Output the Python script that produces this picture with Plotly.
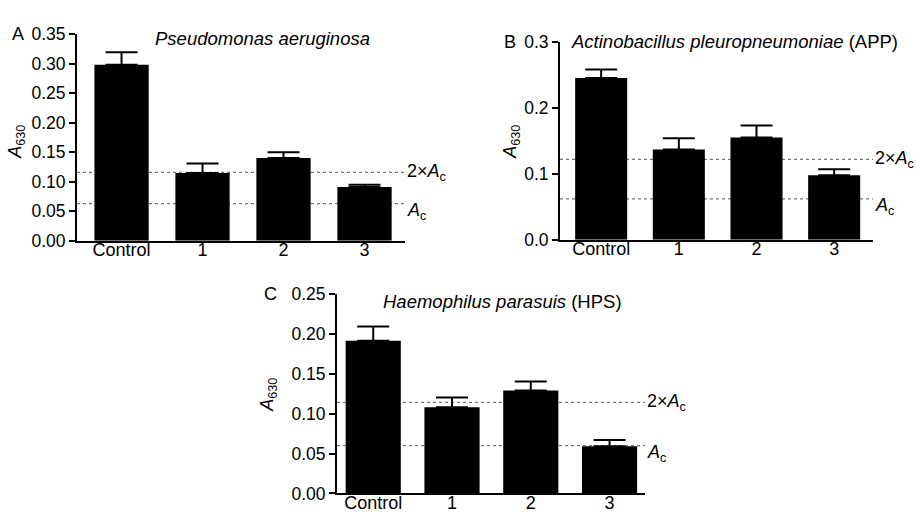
import plotly.graph_objects as go

categories = ["Control", "1", "2", "3"]

# Panel A: Pseudomonas aeruginosa
a_means = [0.298, 0.115, 0.140, 0.091]
a_errs = [0.021, 0.016, 0.010, 0.004]
a_ac = 0.063
a_2ac = 0.116

# Panel B: Actinobacillus pleuropneumoniae (APP)
b_means = [0.245, 0.137, 0.155, 0.098]
b_errs = [0.013, 0.017, 0.018, 0.009]
b_ac = 0.062
b_2ac = 0.122

# Panel C: Haemophilus parasuis (HPS)
c_means = [0.191, 0.108, 0.129, 0.059]
c_errs = [0.018, 0.012, 0.011, 0.008]
c_ac = 0.060
c_2ac = 0.114

FONT = "Liberation Sans, Arial, sans-serif"
W, H = 921, 523

panels = [
    dict(key="", means=a_means, errs=a_errs, ac=a_ac, ac2=a_2ac,
         xdom=[77 / W, 405 / W], ydom=[1 - 240 / H, 1 - 25 / H],
         xr=[-0.55, 3.5], yr=[0, 0.35], dtick=0.05, fmt=".2f", bw=0.67,
         title="<i>Pseudomonas aeruginosa</i>", tx=262, ty=30,
         letter="A", lx=18, ly=25, ylx=17, yly=137),
    dict(key="2", means=b_means, errs=b_errs, ac=b_ac, ac2=b_2ac,
         xdom=[560 / W, 873 / W], ydom=[1 - 239 / H, 1 - 33 / H],
         xr=[-0.53, 3.5], yr=[0, 0.3], dtick=0.1, fmt=".1f", bw=0.67,
         title="<i>Actinobacillus pleuropneumoniae</i> (APP)", tx=734, ty=33,
         letter="B", lx=510, ly=33, ylx=512, yly=137),
    dict(key="3", means=c_means, errs=c_errs, ac=c_ac, ac2=c_2ac,
         xdom=[337 / W, 645 / W], ydom=[1 - 502.7 / H, 1 - 295 / H],
         xr=[-0.46, 3.45], yr=[0, 0.25], dtick=0.05, fmt=".2f", bw=0.7,
         title="<i>Haemophilus parasuis</i> (HPS)", tx=502, ty=303,
         letter="C", lx=270, ly=295, ylx=269, yly=400),
]

fig = go.Figure()
annotations = []
shapes = []

for p in panels:
    xa = "x" + p["key"]
    ya = "y" + p["key"]
    fig.add_trace(go.Bar(
        x=categories, y=p["means"], xaxis=xa, yaxis=ya,
        width=p["bw"], marker=dict(color="black", line=dict(width=0)),
        error_y=dict(type="data", array=p["errs"], arrayminus=[0] * 4,
                     symmetric=False, color="black", thickness=2, width=16),
        showlegend=False, hoverinfo="skip",
    ))
    # dotted reference lines (A_c and 2×A_c) from the y axis to the end of the x axis
    for val in (p["ac"], p["ac2"]):
        shapes.append(dict(type="line", xref=xa + " domain", yref=ya,
                           x0=0, x1=1, y0=val, y1=val, layer="below",
                           line=dict(color="#777777", width=1.2, dash="dot")))
    annotations.append(dict(xref=xa + " domain", yref=ya, x=1.0, y=p["ac2"],
                            text="2×<i>A</i><sub>c</sub>", showarrow=False,
                            xanchor="left", yanchor="middle",
                            font=dict(size=18, family=FONT, color="black")))
    annotations.append(dict(xref=xa + " domain", yref=ya, x=1.0, y=p["ac"],
                            yshift=-8,
                            text="<i>A</i><sub>c</sub>", showarrow=False,
                            xanchor="left", yanchor="middle",
                            font=dict(size=18, family=FONT, color="black")))
    # panel title
    annotations.append(dict(xref="paper", yref="paper", x=p["tx"] / W, y=1 - p["ty"] / H,
                            text=p["title"], showarrow=False,
                            xanchor="center", yanchor="middle",
                            font=dict(size=18.5, family=FONT, color="black")))
    # panel letter
    annotations.append(dict(xref="paper", yref="paper", x=p["lx"] / W, y=1 - p["ly"] / H,
                            text=p["letter"], showarrow=False,
                            xanchor="center", yanchor="middle",
                            font=dict(size=18, family=FONT, color="black")))
    # y axis title
    annotations.append(dict(xref="paper", yref="paper", x=p["ylx"] / W, y=1 - p["yly"] / H,
                            text="<i>A</i><sub>630</sub>", showarrow=False, textangle=-90,
                            xanchor="center", yanchor="middle",
                            font=dict(size=18, family=FONT, color="black")))
    xname = "xaxis" + p["key"]
    yname = "yaxis" + p["key"]
    fig.layout[xname] = dict(
        domain=p["xdom"], anchor=ya, range=p["xr"], type="category",
        showline=True, linecolor="black", linewidth=2, ticks="",
        ticklabelstandoff=-8,
        showgrid=False, zeroline=False,
        tickfont=dict(size=18, family=FONT, color="black"),
    )
    fig.layout[yname] = dict(
        domain=p["ydom"], anchor=xa, range=p["yr"], dtick=p["dtick"], tick0=0,
        tickformat=p["fmt"], showline=True, linecolor="black", linewidth=2,
        ticks="outside", ticklen=6, tickwidth=2, tickcolor="black",
        showgrid=False, zeroline=False,
        tickfont=dict(size=17.5, family=FONT, color="black"),
    )

fig.update_layout(
    width=W, height=H, margin=dict(l=0, r=0, t=0, b=0),
    paper_bgcolor="white", plot_bgcolor="rgba(0,0,0,0)",
    annotations=annotations, shapes=shapes, bargap=0.3,
    font=dict(family=FONT, color="black"),
)

fig.write_html(
    "out.html",
    config={"displayModeBar": False},
    post_script=(
        "document.documentElement.style.overflow='hidden';"
        "document.body.style.margin='0';document.body.style.overflow='hidden';"
        "var d=document.getElementById('{plot_id}');"
        "d.style.position='fixed';d.style.top='0px';d.style.left='0px';"
    ),
)
